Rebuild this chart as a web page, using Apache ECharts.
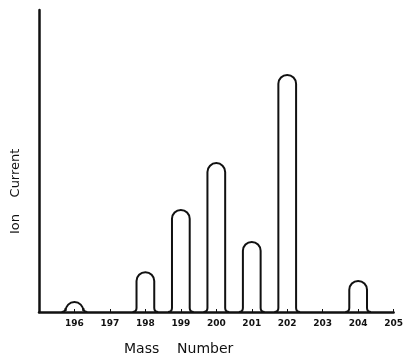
<!DOCTYPE html>
<html>
<head>
<meta charset="utf-8">
<script src="https://cdn.jsdelivr.net/npm/echarts@6/dist/echarts.min.js"></script>
<style>
  html, body { margin: 0; padding: 0; background: #fff; }
  #main { width: 406px; height: 357px; }
</style>
</head>
<body>
<div id="main"></div>
<script>
// mass spectrum of mercury isotopes (ion current, arbitrary units)
var massNumbers = [196, 198, 199, 200, 201, 202, 204];
var ionCurrent = [3.3, 13.2, 33.8, 49.3, 23.2, 78.5, 10.3];
var tickLabels = ['196', '197', '198', '199', '200', '201', '202', '203', '204', '205'];

var peakData = [];
for (var i = 0; i < massNumbers.length; i++) {
  peakData.push([massNumbers[i], ionCurrent[i]]);
}

var ink = '#111';

function renderPeak(params, api) {
  var base = api.coord([api.value(0), 0]);
  var top = api.coord([api.value(0), api.value(1)]);
  var w = api.size([0.25, 0])[0];
  var cx = base[0];
  var by = base[1];
  var h = by - top[1];
  var d;
  if (h <= w + 1) {
    // low bump: just a rounded cap
    d = 'M' + (cx - w - 2) + ' ' + by +
      ' Q' + (cx - w) + ' ' + by + ' ' + (cx - w) + ' ' + (by - 1) +
      ' A' + w + ' ' + (h - 1) + ' 0 0 1 ' + (cx + w) + ' ' + (by - 1) +
      ' Q' + (cx + w) + ' ' + by + ' ' + (cx + w + 2) + ' ' + by;
  } else {
    var f = 4;
    d = 'M' + (cx - w - f) + ' ' + by +
      ' Q' + (cx - w) + ' ' + by + ' ' + (cx - w) + ' ' + (by - f) +
      ' L' + (cx - w) + ' ' + (top[1] + w) +
      ' A' + w + ' ' + w + ' 0 0 1 ' + (cx + w) + ' ' + (top[1] + w) +
      ' L' + (cx + w) + ' ' + (by - f) +
      ' Q' + (cx + w) + ' ' + by + ' ' + (cx + w + f) + ' ' + by;
  }
  return {
    type: 'path',
    shape: { pathData: d },
    style: { fill: 'none', stroke: ink, lineWidth: 2 }
  };
}

var chart = echarts.init(document.getElementById('main'), null, { renderer: 'canvas' });

var option = {
  animation: false,
  backgroundColor: '#fff',
  grid: { left: 39, right: 9, top: 10, bottom: 45 },
  xAxis: {
    type: 'value',
    min: 195,
    max: 205,
    interval: 1,
    axisLine: { show: true, onZero: false, lineStyle: { color: ink, width: 2.5 } },
    axisTick: { show: true, inside: true, length: 3, lineStyle: { color: ink, width: 1 } },
    splitLine: { show: false },
    axisLabel: {
      margin: 7,
      color: ink,
      fontSize: 9,
      fontWeight: 'bold',
      fontFamily: 'DejaVu Sans',
      showMinLabel: false,
      formatter: function (v) {
        var idx = tickLabels.indexOf(String(v));
        return idx >= 0 ? tickLabels[idx] : '';
      }
    }
  },
  yAxis: {
    type: 'value',
    min: 0,
    max: 100,
    axisLine: { show: true, lineStyle: { color: ink, width: 2.5 } },
    axisTick: { show: false },
    axisLabel: { show: false },
    splitLine: { show: false }
  },
  graphic: [
    {
      type: 'text',
      left: 124,
      top: 342,
      style: { text: 'Mass    Number', fill: ink, font: '14px "DejaVu Sans"' }
    },
    {
      type: 'text',
      x: 9,
      y: 234,
      rotation: Math.PI / 2,
      style: { text: 'Ion    Current', fill: ink, font: '13px "DejaVu Sans"' }
    }
  ],
  series: [
    {
      type: 'custom',
      renderItem: renderPeak,
      clip: false,
      data: peakData
    }
  ]
};

chart.setOption(option);
</script>
</body>
</html>
